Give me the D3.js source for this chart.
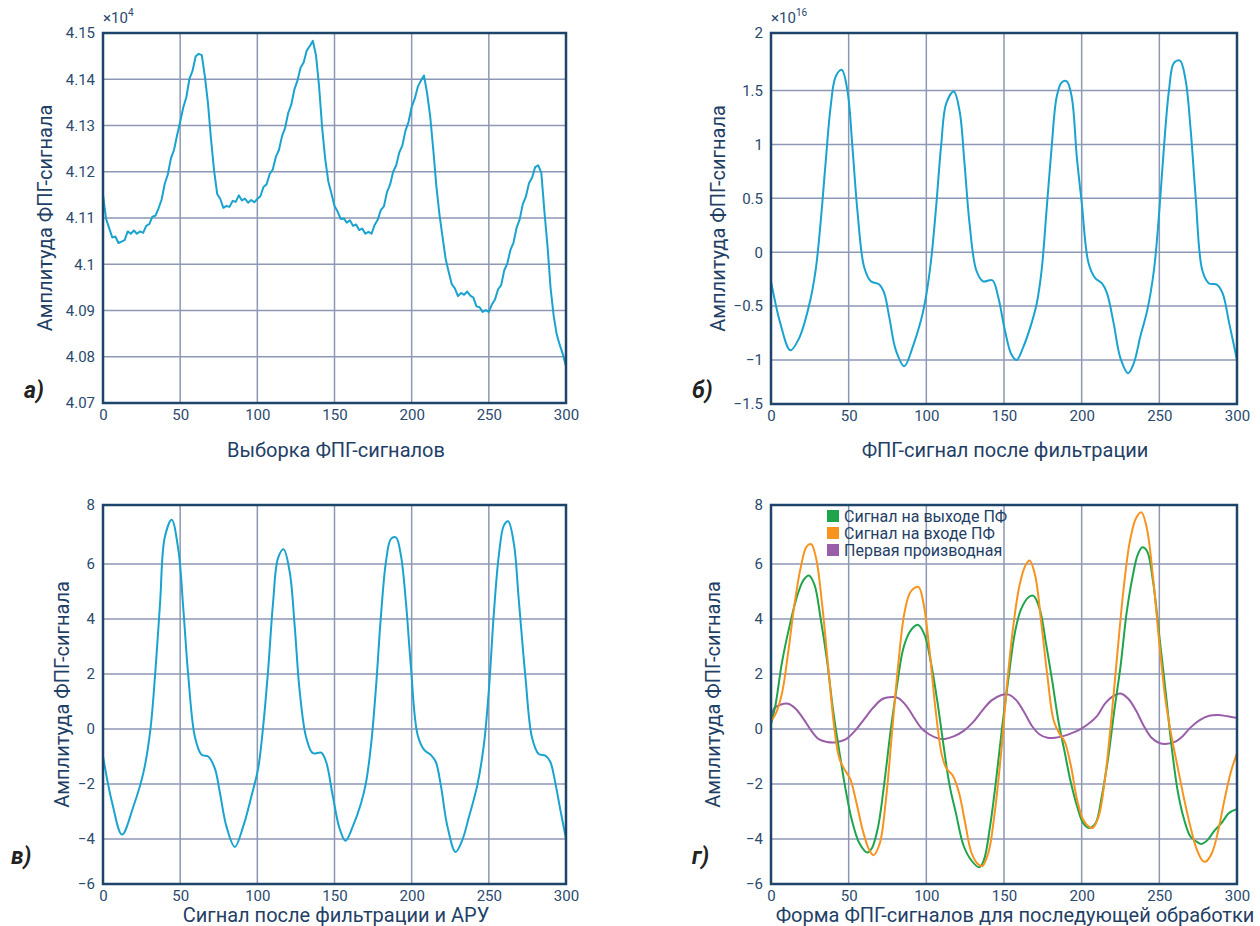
<!DOCTYPE html>
<html>
<head>
<meta charset="utf-8">
<script src="https://cdn.jsdelivr.net/npm/d3@7"></script>
<style>
  body { margin: 0; background: #fff; }
  svg text { font-family: Roboto, "Liberation Sans", sans-serif; }
</style>
</head>
<body>
<svg id="chart" width="1260" height="926"></svg>
<script>
// ---- data ----
const xTicks = [0, 50, 100, 150, 200, 250, 300];

// a) raw PPG samples (x10^4), one value every 2 samples
const rawStep = 2;
const rawValues = [
  4.1150, 4.1098, 4.1078, 4.1058, 4.1060, 4.1046, 4.1049, 4.1052, 4.1071, 4.1066,
  4.1073, 4.1066, 4.1071, 4.1068, 4.1083, 4.1087, 4.1103, 4.1105, 4.1121, 4.1140,
  4.1174, 4.1194, 4.1229, 4.1247, 4.1279, 4.1308, 4.1339, 4.1361, 4.1401, 4.1418,
  4.1449, 4.1455, 4.1452, 4.1406, 4.1349, 4.1270, 4.1202, 4.1152, 4.1141, 4.1122,
  4.1126, 4.1124, 4.1137, 4.1135, 4.1149, 4.1138, 4.1142, 4.1133, 4.1139, 4.1134,
  4.1141, 4.1147, 4.1167, 4.1173, 4.1195, 4.1205, 4.1232, 4.1247, 4.1277, 4.1295,
  4.1327, 4.1345, 4.1378, 4.1397, 4.1425, 4.1436, 4.1462, 4.1472, 4.1483, 4.1452,
  4.1385, 4.1295, 4.1227, 4.1179, 4.1153, 4.1126, 4.1114, 4.1098, 4.1099, 4.1090,
  4.1095, 4.1083, 4.1086, 4.1074, 4.1077, 4.1066, 4.1070, 4.1066, 4.1085, 4.1096,
  4.1117, 4.1125, 4.1156, 4.1172, 4.1200, 4.1214, 4.1242, 4.1257, 4.1289, 4.1308,
  4.1340, 4.1358, 4.1384, 4.1397, 4.1408, 4.1370, 4.1320, 4.1248, 4.1169, 4.1108,
  4.1059, 4.1012, 4.0983, 4.0957, 4.0948, 4.0931, 4.0938, 4.0934, 4.0941, 4.0932,
  4.0928, 4.0909, 4.0907, 4.0897, 4.0901, 4.0897, 4.0913, 4.0924, 4.0946, 4.0955,
  4.0987, 4.1002, 4.1031, 4.1047, 4.1079, 4.1097, 4.1130, 4.1146, 4.1175, 4.1187,
  4.1210, 4.1214, 4.1198, 4.1115, 4.1040, 4.0949, 4.0889, 4.0848, 4.0825, 4.0805,
  4.0779
];
const rawTicks = [4.07, 4.08, 4.09, 4.10, 4.11, 4.12, 4.13, 4.14, 4.15];
const rawTickLabels = ["4.07", "4.08", "4.09", "4.1", "4.11", "4.12", "4.13", "4.14", "4.15"];

// б) filtered signal (x10^16): [sample, value]
const filtered = [
  [0, -0.27], [6, -0.66], [12.5, -0.91], [18, -0.8], [24.4, -0.5], [28.7, -0.17], [31.9, 0.27],
  [35.1, 0.82], [38.4, 1.35], [41.6, 1.62], [45.5, 1.68], [49.2, 1.5], [52.4, 0.98], [55.6, 0.39],
  [60, -0.14], [64.3, -0.27], [69.7, -0.3], [72.9, -0.38], [76.1, -0.6], [80.4, -0.91], [85.8, -1.07],
  [91.2, -0.88], [96.6, -0.63], [99.8, -0.41], [103.1, -0.07], [106.3, 0.42], [109.6, 1.0], [112.8, 1.38],
  [117.7, 1.49], [121.4, 1.31], [124.6, 0.82], [127.8, 0.27], [132.2, -0.17], [136.5, -0.27], [142.5, -0.26],
  [146.2, -0.41], [150.5, -0.72], [154.8, -0.95], [158.1, -1.0], [162.4, -0.88], [167.7, -0.66], [171, -0.48],
  [174.2, -0.17], [177.4, 0.39], [180.7, 0.98], [183.9, 1.44], [187.1, 1.57], [190.4, 1.58], [193.6, 1.44],
  [196.9, 0.88], [200.1, 0.45], [204.4, -0.1], [208.7, -0.24], [213.1, -0.29], [216.3, -0.38], [220.6, -0.66],
  [224.9, -0.98], [229.9, -1.15], [233.5, -1.04], [237.8, -0.78], [242.2, -0.54], [246.5, -0.17], [249.7, 0.33],
  [253, 0.98], [256.2, 1.5], [259.4, 1.74], [263.3, 1.76], [266.9, 1.59], [270.2, 1.13], [273.4, 0.51],
  [277.7, -0.17], [282, -0.29], [287, -0.3], [290.7, -0.38], [295, -0.66], [300, -1.0]
];
const filtTicks = [-1.5, -1, -0.5, 0, 0.5, 1, 1.5, 2];
const filtTickLabels = ["\u22121.5", "\u22121", "\u22120.5", "0", "0.5", "1", "1.5", "2"];

// в) after filtering and AGC
const agc = [
  [0, -1.0], [6, -2.7], [12.3, -3.84], [19.8, -2.8], [26.3, -1.56], [30.6, -0.07], [34, 2.15],
  [37, 4.6], [40, 6.9], [44.5, 7.5], [48.9, 6.45], [52, 4.4], [55.3, 1.9], [59.6, -0.3],
  [63.9, -0.94], [68.2, -1.0], [72.5, -1.44], [75.7, -2.3], [80, -3.55], [85.4, -4.35], [90.8, -3.55],
  [96.2, -2.44], [100.5, -1.44], [103.7, 0.05], [107, 2.15], [110.2, 4.6], [113.4, 6.2], [117, 6.5],
  [121, 5.7], [124.2, 3.75], [127.4, 1.4], [131.7, -0.32], [136, -0.88], [141.4, -0.86], [144.6, -1.2],
  [148.9, -2.44], [153.2, -3.6], [157.1, -4.08], [161.8, -3.55], [167.2, -2.7], [170.4, -1.95], [173.7, -0.57],
  [176.9, 1.53], [180.1, 4.12], [183.4, 6.1], [186.6, 6.85], [189.8, 6.9], [193, 6.3], [196.3, 4.6],
  [199.5, 2.27], [203.8, -0.2], [208.1, -0.76], [212.4, -0.94], [215.6, -1.19], [218.9, -2.05], [223.2, -3.55],
  [228.5, -4.58], [232.8, -4.05], [237.1, -3.2], [242.5, -2.05], [246.8, -0.57], [250, 1.4], [253.3, 4.25],
  [256.5, 6.3], [259.7, 7.3], [262.5, 7.45], [266.2, 6.7], [269.4, 4.7], [273.7, 1.9], [278, -0.32],
  [282.3, -0.91], [286.6, -0.97], [289.8, -1.19], [293, -1.94], [296.3, -2.93], [300, -3.98]
];
const ampTicks = [-6, -4, -2, 0, 2, 4, 6, 8];
const ampTickLabels = ["\u22126", "\u22124", "\u22122", "0", "2", "4", "6", "8"];

// г) three series
const bpfOut = [
  [0, 0.17], [3, 0.91], [7, 2.4], [12, 3.76], [17, 4.87], [21, 5.42], [24.4, 5.58], [28, 5.24],
  [32, 4.0], [36, 2.52], [40, 0.67], [44, -0.82], [48, -2.19], [52, -3.3], [57, -4.2], [62, -4.6],
  [65, -4.4], [69, -3.54], [73, -1.94], [77, -0.07], [81, 1.53], [85, 2.89], [89, 3.5], [93, 3.76],
  [95, 3.78], [99, 3.4], [103, 2.4], [107, 1.04], [111, -0.57], [115, -2.06], [119, -3.05], [124, -4.3],
  [129, -4.95], [134, -5.26], [137, -4.95], [141, -3.55], [145, -1.81], [149, 0.17], [153, 1.9], [157, 3.5],
  [161, 4.36], [166, 4.8], [169, 4.84], [173, 4.36], [177, 3.13], [181, 1.77], [185, 0.3], [189, -0.82],
  [193, -1.94], [197, -2.8], [201, -3.42], [205, -3.6], [209, -3.42], [213, -2.43], [217, -1.07], [221, 0.67],
  [225, 2.27], [229, 4.25], [233, 5.6], [236, 6.3], [239, 6.57], [242, 6.45], [246, 5.35], [250, 3.38],
  [254, 1.4], [258, -0.69], [262, -2.31], [266, -3.3], [270, -3.91], [274, -4.12], [277, -4.22], [281, -4.05],
  [285, -3.73], [290, -3.42], [295, -3.05], [300, -2.92]
];
const bpfIn = [
  [0, 0.3], [3, 0.55], [7, 1.28], [11, 2.76], [15, 4.49], [19, 5.84], [23, 6.6], [25.9, 6.67],
  [29, 6.2], [33, 4.49], [37, 2.15], [41, -0.07], [44, -1.07], [47, -1.44], [51, -1.81], [55, -2.68],
  [59, -3.67], [63, -4.45], [66, -4.72], [70, -4.2], [74, -2.56], [78, -0.07], [82, 2.4], [86, 4.25],
  [90, 5.0], [94.9, 5.17], [98, 4.62], [102, 2.89], [106, 0.67], [110, -0.95], [113, -1.44], [117, -1.69],
  [121, -2.31], [125, -3.42], [129, -4.6], [133, -5.1], [136, -5.2], [140, -4.6], [144, -3.05], [148, -0.95],
  [152, 1.65], [156, 3.75], [160, 5.23], [164, 5.97], [166.5, 6.12], [170, 5.6], [174, 3.87], [178, 1.9],
  [182, 0.3], [186, -0.2], [189, -0.45], [193, -1.32], [197, -2.56], [201, -3.3], [205, -3.57], [207, -3.6],
  [211, -3.17], [215, -1.81], [219, 0.3], [223, 2.76], [227, 5.1], [231, 6.76], [235, 7.55], [238.5, 7.75],
  [242, 7.2], [246, 5.48], [250, 3.13], [254, 1.04], [258, -0.32], [262, -1.44], [266, -2.56], [270, -3.55],
  [274, -4.45], [278, -4.98], [280, -5.0], [284, -4.6], [288, -3.67], [292, -2.56], [296, -1.57], [300, -0.88]
];
const deriv = [
  [0, 0.3], [1, 0.6], [2, 0.75], [6, 0.88], [11, 0.92], [16, 0.73], [21, 0.36], [26, -0.07],
  [31, -0.38], [36, -0.47], [42, -0.48], [48, -0.38], [54, -0.07], [60, 0.36], [66, 0.79], [72, 1.1],
  [78, 1.16], [82, 1.12], [87, 0.85], [92, 0.42], [97, 0.02], [102, -0.2], [108, -0.35], [112, -0.36],
  [118, -0.26], [124, -0.07], [130, 0.24], [136, 0.67], [142, 1.04], [148, 1.23], [153, 1.25], [158, 1.04],
  [163, 0.61], [168, 0.11], [173, -0.2], [178, -0.32], [183, -0.32], [188, -0.26], [194, -0.14], [199, -0.01],
  [204, 0.17], [210, 0.48], [215, 0.92], [220, 1.19], [225, 1.29], [230, 1.1], [235, 0.67], [240, 0.11],
  [245, -0.32], [250, -0.51], [255, -0.54], [260, -0.47], [265, -0.26], [270, 0.05], [276, 0.32], [282, 0.48],
  [288, 0.51], [294, 0.46], [300, 0.4]
];
const legendLabels = ["Сигнал на выходе ПФ", "Сигнал на входе ПФ", "Первая производная"];
const legendColors = ["#1ea54c", "#f7931e", "#9a5ea9"];

// ---- drawing ----
const svg = d3.select("#chart");
const LINE = "#1aa3cf", FRAME = "#1d4469", GRID = "#8e97b4", TXT = "#2a4a6e";

function panel(cfg) {
  const g = svg.append("g");
  const x = d3.scaleLinear().domain([0, 300]).range([cfg.left, cfg.right]);
  const y = d3.scaleLinear().domain(cfg.yDomain).range(cfg.yRange);
  const id = "clip" + cfg.name;

  svg.append("clipPath").attr("id", id).append("rect")
    .attr("x", cfg.left).attr("y", cfg.top)
    .attr("width", cfg.right - cfg.left).attr("height", cfg.bottom - cfg.top);

  // grid
  g.selectAll(".gx").data(xTicks.slice(1, -1)).enter().append("line")
    .attr("x1", d => x(d)).attr("x2", d => x(d))
    .attr("y1", cfg.top).attr("y2", cfg.bottom)
    .attr("stroke", GRID).attr("stroke-width", 1.5);
  g.selectAll(".gy").data(cfg.yTicks.slice(1, -1)).enter().append("line")
    .attr("y1", d => y(d)).attr("y2", d => y(d))
    .attr("x1", cfg.left).attr("x2", cfg.right)
    .attr("stroke", GRID).attr("stroke-width", 1.5);

  // axes (labels only)
  const ax = g.append("g").attr("transform", `translate(0,${cfg.bottom})`)
    .call(d3.axisBottom(x).tickValues(xTicks).tickSize(0).tickPadding(6));
  const ay = g.append("g").attr("transform", `translate(${cfg.left},0)`)
    .call(d3.axisLeft(y).tickValues(cfg.yTicks).tickSize(0).tickPadding(8)
      .tickFormat((d, i) => cfg.yLabels[i]));
  [ax, ay].forEach(a => {
    a.select(".domain").remove();
    a.selectAll("text").attr("fill", TXT).style("font-size", "15px");
  });

  // series
  const plot = g.append("g").attr("clip-path", `url(#${id})`);
  cfg.series.forEach(s => {
    plot.append("path").datum(s.data)
      .attr("fill", "none").attr("stroke", s.color).attr("stroke-width", 2)
      .attr("stroke-linejoin", "round")
      .attr("d", d3.line().x(d => x(d[0])).y(d => y(d[1])).curve(s.curve));
  });

  // frame
  g.append("rect").attr("x", cfg.left).attr("y", cfg.top)
    .attr("width", cfg.right - cfg.left).attr("height", cfg.bottom - cfg.top)
    .attr("fill", "none").attr("stroke", FRAME).attr("stroke-width", 2.5);

  // titles
  g.append("text").attr("x", cfg.xTitleX).attr("y", cfg.bottom + cfg.xTitleDy)
    .attr("text-anchor", "middle").attr("fill", "#1f4066").style("font-size", "20px")
    .text(cfg.xTitle);
  g.append("text")
    .attr("transform", `translate(${cfg.yTitleX},${(cfg.top + cfg.bottom) / 2}) rotate(-90)`)
    .attr("text-anchor", "middle").attr("fill", "#1f4066").style("font-size", "20px")
    .text("Амплитуда ФПГ-сигнала");
  g.append("text").attr("x", cfg.tagX).attr("y", cfg.tagY)
    .attr("fill", "#222").style("font-size", "23px")
    .style("font-weight", "bold").style("font-style", "italic")
    .text(cfg.tag);

  if (cfg.exp) {
    const t = g.append("text").attr("x", cfg.left).attr("y", cfg.top - 10)
      .attr("fill", TXT).style("font-size", "15px");
    t.append("tspan").text("\u00d710");
    t.append("tspan").attr("dy", -7).style("font-size", "10px").text(cfg.exp);
  }
  return { g, x, y };
}

const smooth = d3.curveCatmullRom.alpha(0.5);
const rawPts = rawValues.map((v, i) => [i * rawStep, v]);

panel({
  name: "a", left: 103, right: 566, top: 33, bottom: 403,
  yDomain: [4.07, 4.15], yRange: [403, 33],
  yTicks: rawTicks, yLabels: rawTickLabels,
  series: [{ data: rawPts, color: LINE, curve: d3.curveLinear }],
  xTitle: "Выборка ФПГ-сигналов", xTitleX: 336, xTitleDy: 54, yTitleX: 52,
  tag: "а)", tagX: 24, tagY: 398, exp: "4"
});

panel({
  name: "b", left: 771, right: 1237, top: 33, bottom: 404,
  yDomain: [-1.5, -1, 1.5, 2], yRange: [404, 360, 90.5, 33],
  yTicks: filtTicks, yLabels: filtTickLabels,
  series: [{ data: filtered, color: LINE, curve: smooth }],
  xTitle: "ФПГ-сигнал после фильтрации", xTitleX: 1005, xTitleDy: 53, yTitleX: 725,
  tag: "б)", tagX: 692, tagY: 398, exp: "16"
});

panel({
  name: "c", left: 103, right: 566, top: 505, bottom: 884,
  yDomain: [-6, -4, 6, 8], yRange: [884, 839, 564, 505],
  yTicks: ampTicks, yLabels: ampTickLabels,
  series: [{ data: agc, color: LINE, curve: smooth }],
  xTitle: "Сигнал после фильтрации и АРУ", xTitleX: 336, xTitleDy: 38, yTitleX: 69,
  tag: "в)", tagX: 11, tagY: 864
});

const pG = panel({
  name: "d", left: 771, right: 1237, top: 505, bottom: 884,
  yDomain: [-6, -4, 6, 8], yRange: [884, 839, 564, 505],
  yTicks: ampTicks, yLabels: ampTickLabels,
  series: [
    { data: deriv, color: legendColors[2], curve: smooth },
    { data: bpfOut, color: legendColors[0], curve: smooth },
    { data: bpfIn, color: legendColors[1], curve: smooth }
  ],
  xTitle: "Форма ФПГ-сигналов для последующей обработки", xTitleX: 1015, xTitleDy: 38, yTitleX: 720,
  tag: "г)", tagX: 692, tagY: 864
});

// legend
const leg = pG.g.append("g").attr("transform", "translate(827,510)");
legendLabels.forEach((lab, i) => {
  leg.append("rect").attr("x", 0).attr("y", i * 17).attr("width", 12).attr("height", 12)
    .attr("fill", legendColors[i]);
  leg.append("text").attr("x", 17).attr("y", i * 17 + 11.5)
    .attr("fill", "#1f4066").style("font-size", "16px").text(lab);
});
</script>
</body>
</html>
